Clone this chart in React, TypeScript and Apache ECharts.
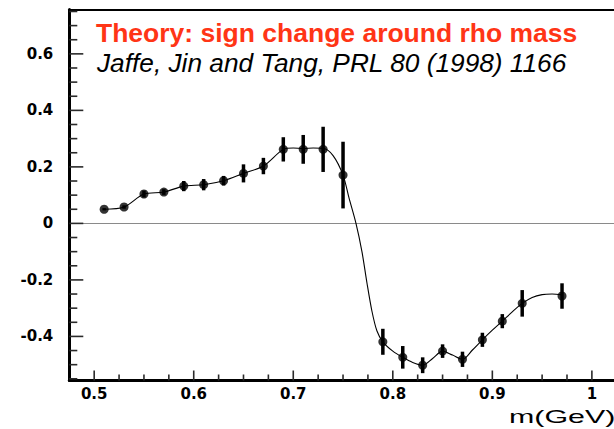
import React, { useEffect, useRef } from "react";
import * as echarts from "echarts";

// Measured points: invariant mass (GeV), asymmetry and its error
const massGeV = [
  0.51, 0.53, 0.55, 0.57, 0.59, 0.61, 0.63, 0.65, 0.67, 0.69, 0.71, 0.73, 0.75,
  0.79, 0.81, 0.83, 0.85, 0.87, 0.89, 0.91, 0.93, 0.97,
];
const asymmetry = [
  0.05, 0.058, 0.104, 0.111, 0.132, 0.137, 0.151, 0.177, 0.203, 0.262, 0.262, 0.262, 0.171,
  -0.419, -0.474, -0.502, -0.452, -0.481, -0.412, -0.346, -0.283, -0.257,
];
const asymmetryErr = [
  0.004, 0.006, 0.012, 0.01, 0.018, 0.02, 0.017, 0.032, 0.029, 0.043, 0.051, 0.08, 0.118,
  0.046, 0.04, 0.028, 0.024, 0.027, 0.025, 0.025, 0.047, 0.045,
];

// Theory curve (Jaffe, Jin and Tang)
const theoryMass = [
  0.51, 0.53, 0.55, 0.57, 0.59, 0.61, 0.63, 0.65, 0.67, 0.69, 0.7, 0.71, 0.72, 0.73, 0.74,
  0.75, 0.756, 0.763, 0.769, 0.774, 0.779, 0.784, 0.79, 0.8, 0.81, 0.82, 0.83, 0.84, 0.85,
  0.86, 0.87, 0.88, 0.89, 0.9, 0.91, 0.92, 0.93, 0.94, 0.95, 0.96, 0.97,
];
const theoryValue = [
  0.05, 0.058, 0.104, 0.111, 0.132, 0.137, 0.151, 0.177, 0.203, 0.262, 0.267, 0.265, 0.267,
  0.266, 0.24, 0.171, 0.09, 0.0, -0.1, -0.21, -0.31, -0.38, -0.419, -0.452, -0.474, -0.492,
  -0.502, -0.478, -0.452, -0.466, -0.481, -0.448, -0.412, -0.378, -0.346, -0.313, -0.283,
  -0.262, -0.252, -0.25, -0.253,
];

// Axis ticks
const xMajorTicks = [0.5, 0.6, 0.7, 0.8, 0.9, 1];
const xMinorTicks = [
  0.525, 0.55, 0.575, 0.625, 0.65, 0.675, 0.725, 0.75, 0.775,
  0.825, 0.85, 0.875, 0.925, 0.95, 0.975, 1.025,
];
const yMajorTicks = [-0.4, -0.2, 0, 0.2, 0.4, 0.6];
const yMinorTicks = [
  -0.55, -0.5, -0.45, -0.35, -0.3, -0.25, -0.15, -0.1, -0.05, 0.05, 0.1,
  0.15, 0.25, 0.3, 0.35, 0.45, 0.5, 0.55, 0.65, 0.7, 0.75,
];

const X_MIN = 0.475;
const X_MAX = 1.04;
const Y_MIN = -0.556;
const Y_MAX = 0.757;

const labelFont = {
  fontFamily: "DejaVu Sans",
  fontWeight: "bold" as const,
  fontSize: 15,
  color: "#000",
};

const TICK_COLOR = "#2a2a2a";
const TICK_WIDTH = 1.6;

// Inward tick marks along the bottom (vertical) or left (horizontal) frame edge
function tickSeries(values: number[], along: "x" | "y", length: number) {
  return {
    type: "custom",
    xAxisIndex: 0,
    yAxisIndex: 0,
    silent: true,
    clip: false,
    z: 6,
    data: values.map((v) => (along === "x" ? [v, Y_MIN] : [X_MIN, v])),
    encode: { x: 0, y: 1 },
    renderItem: (_params: any, api: any) => {
      const p = api.coord([api.value(0), api.value(1)]);
      const rect =
        along === "x"
          ? { x: p[0] - TICK_WIDTH / 2, y: p[1] - length, width: TICK_WIDTH, height: length }
          : { x: p[0], y: p[1] - TICK_WIDTH / 2, width: length, height: TICK_WIDTH };
      return {
        type: "rect",
        shape: rect,
        style: { fill: TICK_COLOR },
      };
    },
  };
}

export default function App() {
  const ref = useRef<HTMLDivElement>(null);

  useEffect(() => {
    if (!ref.current) return;
    const chart = echarts.init(ref.current, undefined, { renderer: "svg" });

    const points = massGeV.map((m, i) => [m, asymmetry[i]]);
    const bars = massGeV.map((m, i) => [m, asymmetry[i], asymmetryErr[i]]);
    const curve = theoryMass.map((m, i) => [m, theoryValue[i]]);

    const hiddenLabels = { show: false };

    chart.setOption({
      animation: false,
      backgroundColor: "#fff",
      // plot frame continues past the right edge of the canvas
      grid: {
        left: 69.3,
        top: 9.5,
        width: 562.4,
        height: 371,
        containLabel: false,
        outerBoundsMode: "none",
      },
      xAxis: [
        {
          type: "value",
          position: "bottom",
          min: X_MIN,
          max: X_MAX,
          axisLine: { show: true, onZero: false, lineStyle: { color: "#000", width: 3 } },
          axisTick: { show: false },
          axisLabel: {
            show: true,
            margin: 6,
            customValues: xMajorTicks,
            formatter: (v: number) => String(v),
            ...labelFont,
          },
          splitLine: { show: false },
          z: 5,
        },
        {
          type: "value",
          position: "top",
          min: X_MIN,
          max: X_MAX,
          axisLine: { show: true, onZero: false, lineStyle: { color: "#000", width: 2 } },
          axisTick: { show: false },
          axisLabel: hiddenLabels,
          splitLine: { show: false },
        },
      ],
      yAxis: [
        {
          type: "value",
          position: "left",
          min: Y_MIN,
          max: Y_MAX,
          axisLine: { show: true, onZero: false, lineStyle: { color: "#000", width: 3 } },
          axisTick: { show: false },
          axisLabel: {
            show: true,
            margin: 16,
            customValues: yMajorTicks,
            formatter: (v: number) => String(v),
            ...labelFont,
          },
          splitLine: { show: false },
          z: 5,
        },
      ],
      graphic: [
        {
          type: "text",
          x: 96,
          y: 33.6,
          scaleX: 1.06,
          style: {
            text: "Theory: sign change around rho mass",
            fill: "#ff3516",
            fontFamily: "Liberation Sans",
            fontWeight: "bold",
            fontSize: 25,
            align: "left",
            verticalAlign: "middle",
          },
        },
        {
          type: "text",
          x: 97,
          y: 63,
          scaleX: 1.05,
          style: {
            text: "Jaffe, Jin and Tang, PRL 80 (1998) 1166",
            fill: "#000",
            fontFamily: "Liberation Sans",
            fontStyle: "italic",
            fontSize: 25,
            align: "left",
            verticalAlign: "middle",
          },
        },
        {
          type: "text",
          x: 509,
          y: 416.7,
          scaleX: 1.6,
          style: {
            text: "m(GeV)",
            fill: "#000",
            fontFamily: "Liberation Sans",
            fontSize: 19,
            align: "left",
            verticalAlign: "middle",
          },
        },
      ],
      series: [
        {
          name: "theory",
          type: "line",
          xAxisIndex: 0,
          yAxisIndex: 0,
          data: curve,
          smooth: 0.3,
          showSymbol: false,
          symbol: "none",
          lineStyle: { color: "#000", width: 1.1 },
          z: 2,
          markLine: {
            silent: true,
            symbol: "none",
            label: { show: false },
            lineStyle: { color: "#8a8a8a", width: 1, type: "solid" },
            data: [{ yAxis: 0 }],
            z: 1,
          },
        },
        {
          name: "errors",
          type: "custom",
          xAxisIndex: 0,
          yAxisIndex: 0,
          data: bars,
          encode: { x: 0, y: 1 },
          z: 3,
          renderItem: (_params: any, api: any) => {
            const x = api.value(0);
            const y = api.value(1);
            const e = api.value(2);
            const lo = api.coord([x, y - e]);
            const hi = api.coord([x, y + e]);
            return {
              type: "line",
              shape: { x1: lo[0], y1: lo[1], x2: hi[0], y2: hi[1] },
              style: { stroke: "#000", lineWidth: 3.5 },
            };
          },
        },
        {
          name: "data",
          type: "scatter",
          xAxisIndex: 0,
          yAxisIndex: 0,
          data: points,
          symbol: "circle",
          symbolSize: 9,
          itemStyle: { color: "#000" },
          z: 4,
        },
        tickSeries(xMajorTicks, "x", 10),
        tickSeries(xMinorTicks, "x", 6),
        tickSeries(yMajorTicks, "y", 14),
        tickSeries(yMinorTicks, "y", 8),
      ],
    });

    return () => chart.dispose();
  }, []);

  return (
    <div
      ref={ref}
      style={{ position: "fixed", left: 0, top: 0, width: 614, height: 429, background: "#fff" }}
    />
  );
}
